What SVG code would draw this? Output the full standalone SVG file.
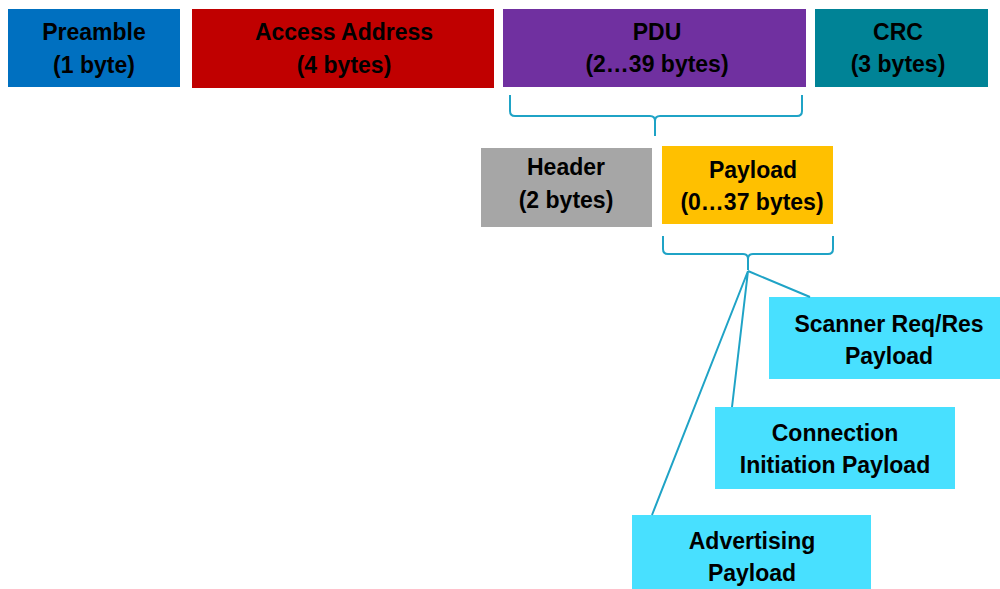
<svg xmlns="http://www.w3.org/2000/svg" width="1000" height="589" viewBox="0 0 1000 589">
<style>
text{font-family:"Liberation Sans",Arial,sans-serif;font-weight:bold;font-size:23px;fill:#000;text-anchor:middle}
.c{fill:none;stroke:#1FA3C6;stroke-width:2}
.s{fill:#48E0FF}
</style>
<rect width="1000" height="589" fill="#fff"/>
<g id="preamble"><rect x="8" y="9" width="172" height="78" fill="#0070C0"/><text x="94" y="40">Preamble</text><text x="94" y="73">(1 byte)</text></g>
<g id="access"><rect x="192" y="9" width="302" height="79" fill="#C00000"/><text x="344" y="40">Access Address</text><text x="344" y="73">(4 bytes)</text></g>
<g id="pdu"><rect x="503" y="9" width="303" height="78" fill="#7030A0"/><text x="657" y="40">PDU</text><text x="657" y="72">(2…39 bytes)</text></g>
<g id="crc"><rect x="815" y="9" width="173" height="78" fill="#008396"/><text x="898" y="40">CRC</text><text x="898" y="72">(3 bytes)</text></g>
<g id="header"><rect x="481" y="148" width="171" height="79" fill="#A6A6A6"/><text x="566" y="175">Header</text><text x="566" y="208">(2 bytes)</text></g>
<g id="payload"><rect x="662" y="146" width="171" height="78" fill="#FFC000"/><text x="753" y="178">Payload</text><text x="752" y="210">(0…37 bytes)</text></g>
<g id="scanner"><rect class="s" x="769" y="297" width="231" height="82"/><text x="889" y="332">Scanner Req/Res</text><text x="889" y="364">Payload</text></g>
<g id="connection"><rect class="s" x="715" y="407" width="240" height="82"/><text x="835" y="441">Connection</text><text x="835" y="473">Initiation Payload</text></g>
<g id="advertising"><rect class="s" x="632" y="515" width="239" height="74"/><text x="752" y="549">Advertising</text><text x="752" y="581">Payload</text></g>
<g id="connectors">
<path class="c" d="M510,95 L510,111 Q510,116 515,116 L650,116 Q655,116 655,121 L655,136 M802,95 L802,111 Q802,116 797,116 L660,116 Q655,116 655,121"/>
<path class="c" d="M663,236 L663,249 Q663,254 668,254 L743,254 Q748,254 748,259 L748,270 M833,236 L833,249 Q833,254 828,254 L753,254 Q748,254 748,259"/>
<path class="c" d="M748,271 L810,297 M748,271 L732,407 M748,271 L652,515"/>
</g>
</svg>
